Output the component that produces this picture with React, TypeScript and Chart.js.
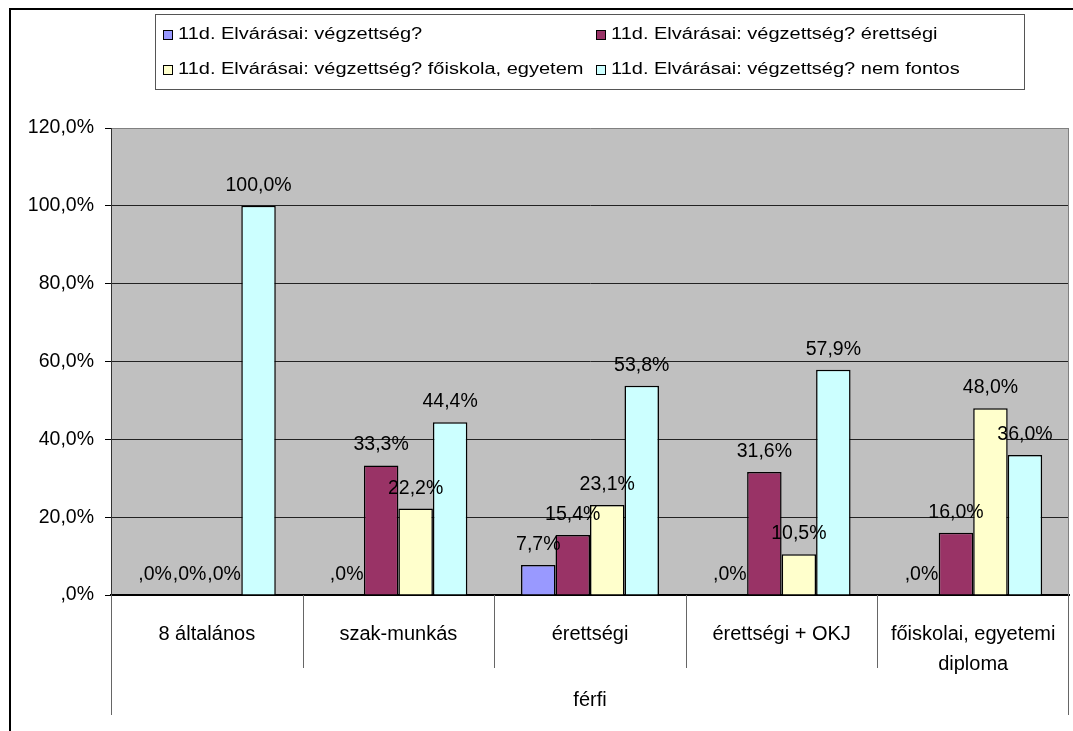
import { useEffect, useRef } from 'react';
import { Chart, registerables } from 'chart.js';

Chart.register(...registerables);

// ---- data ----
const categories: string[][] = [
  ['8 általános'],
  ['szak-munkás'],
  ['érettségi'],
  ['érettségi + OKJ'],
  ['főiskolai, egyetemi', 'diploma'],
];
const groupLabel = 'férfi';
const seriesNames = [
  '11d. Elvárásai: végzettség?',
  '11d. Elvárásai: végzettség? érettségi',
  '11d. Elvárásai: végzettség? főiskola, egyetem',
  '11d. Elvárásai: végzettség? nem fontos',
];
const seriesColors = ['#9999FF', '#993366', '#FFFFCC', '#CCFFFF'];
const vegzettseg = [0, 0, 7.7, 0, 0];
const erettsegi = [0, 33.3, 15.4, 31.6, 16.0];
const foiskola = [0, 22.2, 23.1, 10.5, 48.0];
const nemFontos = [100, 44.4, 53.8, 57.9, 36.0];
const seriesValues = [vegzettseg, erettsegi, foiskola, nemFontos];
const yMin = 0;
const yMax = 120;
const yStep = 20;

const FONT = '"Liberation Sans", Arial, sans-serif';

const fmtPct = (v: number) => (v === 0 ? ',0%' : v.toFixed(1).replace('.', ',') + '%');

const framePlugin = {
  id: 'frame',
  beforeDraw(chart: any) {
    const { ctx, chartArea: a } = chart;
    ctx.save();
    ctx.fillStyle = '#ffffff';
    ctx.fillRect(0, 0, chart.width, chart.height);
    // outer frame (top + left)
    ctx.strokeStyle = '#000';
    ctx.lineWidth = 2;
    ctx.beginPath();
    ctx.moveTo(10, chart.height);
    ctx.lineTo(10, 9);
    ctx.lineTo(chart.width, 9);
    ctx.stroke();
    // plot background
    ctx.fillStyle = '#C0C0C0';
    ctx.fillRect(a.left, a.top, a.right - a.left, a.bottom - a.top);
    ctx.restore();
  },
  afterDraw(chart: any) {
    const { ctx, chartArea: a } = chart;
    const xs = chart.scales.x;
    ctx.save();
    // right plot border
    ctx.strokeStyle = '#808080';
    ctx.lineWidth = 1;
    ctx.beginPath();
    ctx.moveTo(a.right - 0.5, a.top);
    ctx.lineTo(a.right - 0.5, a.bottom);
    ctx.stroke();
    // category separators
    const n = categories.length;
    const half = (xs.getPixelForValue(1) - xs.getPixelForValue(0)) / 2;
    ctx.strokeStyle = '#666';
    for (let i = 0; i <= n; i++) {
      const px = i < n ? xs.getPixelForValue(i) - half : xs.getPixelForValue(n - 1) + half;
      const outer = i === 0 || i === n;
      const x = Math.round(px) + 0.5 - (i === n ? 1 : 0);
      ctx.beginPath();
      ctx.moveTo(x, a.bottom);
      ctx.lineTo(x, a.bottom + (outer ? 120 : 73));
      ctx.stroke();
    }
    // group label
    ctx.fillStyle = '#000';
    ctx.font = `20px ${FONT}`;
    ctx.textAlign = 'center';
    ctx.textBaseline = 'middle';
    ctx.fillText(groupLabel, (a.left + a.right) / 2, a.bottom + 105);

    // data labels
    ctx.font = `19.5px ${FONT}`;
    ctx.textBaseline = 'alphabetic';
    chart.data.datasets.forEach((ds: any, di: number) => {
      const meta = chart.getDatasetMeta(di);
      meta.data.forEach((el: any, i: number) => {
        ctx.fillText(fmtPct(ds.data[i]), el.x, el.y - 15);
      });
    });

    // legend
    const lx = 155, ly = 14, lw = 869, lh = 75;
    ctx.strokeStyle = '#555';
    ctx.lineWidth = 1;
    ctx.strokeRect(lx + 0.5, ly + 0.5, lw, lh);
    const cols = [163, 596];
    const rows = [35, 70];
    ctx.font = `16px ${FONT}`;
    ctx.textAlign = 'left';
    ctx.textBaseline = 'middle';
    seriesNames.forEach((name, i) => {
      const cx = cols[i % 2];
      const cy = rows[Math.floor(i / 2)];
      ctx.fillStyle = seriesColors[i];
      ctx.fillRect(cx, cy - 5, 10, 10);
      ctx.strokeStyle = '#000';
      ctx.strokeRect(cx + 0.5, cy - 4.5, 9, 9);
      ctx.fillStyle = '#000';
      ctx.save();
      ctx.translate(cx + 15, cy);
      ctx.scale(1.25, 1);
      ctx.fillText(name, 0, 0);
      ctx.restore();
    });
    ctx.restore();
  },
};

export default function App() {
  const ref = useRef<HTMLCanvasElement | null>(null);
  useEffect(() => {
    if (!ref.current) return;
    const chart = new Chart(ref.current, {
      type: 'bar',
      data: {
        labels: categories,
        datasets: seriesNames.map((name, i) => ({
          label: name,
          data: seriesValues[i],
          backgroundColor: seriesColors[i],
          borderColor: '#000',
          borderWidth: 1.5,
          categoryPercentage: 0.72,
          barPercentage: 1,
        })),
      },
      options: {
        animation: false,
        responsive: false,
        maintainAspectRatio: false,
        layout: { padding: { left: 0, top: 128, right: 4, bottom: 0 } },
        plugins: { legend: { display: false }, tooltip: { enabled: false } },
        scales: {
          x: {
            afterFit: (s: any) => { s.height = 136; },
            grid: { display: false },
            border: { display: true, color: '#000', width: 2 },
            ticks: {
              color: '#000',
              font: { family: FONT, size: 20, lineHeight: 1.5 },
              padding: 16,
              maxRotation: 0,
              autoSkip: false,
            },
          },
          y: {
            min: yMin,
            max: yMax,
            afterFit: (s: any) => { s.width = 111; },
            border: { display: true, color: '#333', width: 1 },
            grid: {
              color: (c: any) => (c.tick && c.tick.value === yMax ? '#808080' : '#222'),
              tickColor: '#000',
              tickLength: 6,
              drawTicks: true,
            },
            ticks: {
              stepSize: yStep,
              color: '#000',
              padding: 11,
              font: { family: FONT, size: 19.5 },
              callback: (v: any) => fmtPct(Number(v)),
            },
          },
        },
      },
      plugins: [framePlugin],
    });
    return () => chart.destroy();
  }, []);
  return (
    <div style={{ position: 'fixed', left: 0, top: 0, width: 1073, height: 731, background: '#fff' }}>
      <canvas ref={ref} width={1073} height={731} style={{ width: 1073, height: 731 }} />
    </div>
  );
}
